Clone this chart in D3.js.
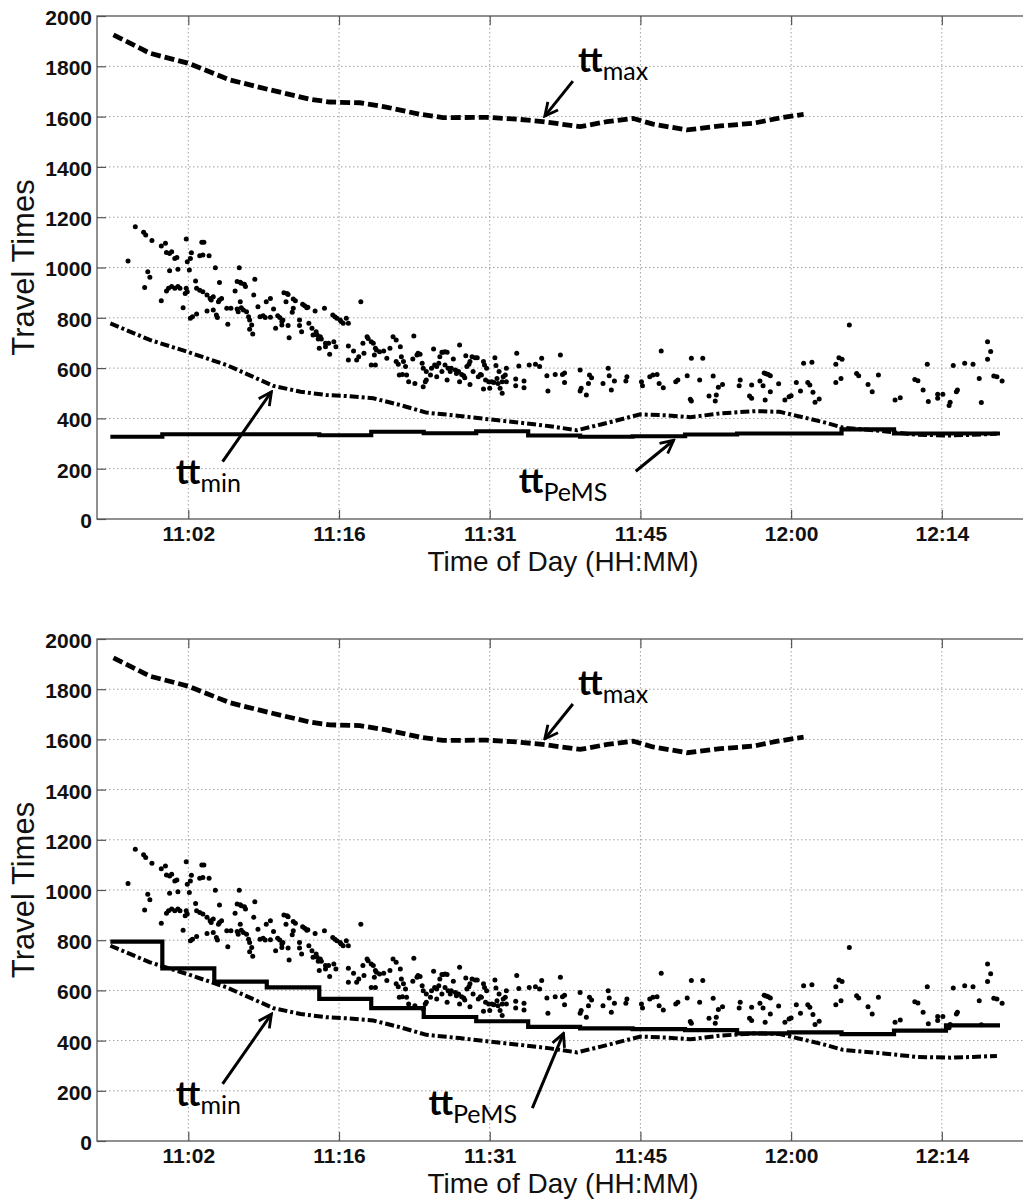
<!DOCTYPE html>
<html>
<head>
  <meta charset="utf-8">
  <title>Travel Times</title>
  <script src="https://cdn.jsdelivr.net/npm/d3@7/dist/d3.min.js"></script>
  <style>
    body { margin: 0; background: #fff; }
    svg { display: block; }
  </style>
</head>
<body>
  <svg width="1023" height="1200" id="mainsvg"></svg>
  <script>
    // time axis is minutes after 11:00, values are travel times in seconds
    const xTicks = [2, 16.5, 31, 45.5, 60, 74.5];
    const xTickLabels = ['11:02', '11:16', '11:31', '11:45', '12:00', '12:14'];
    const yTicks = [0, 200, 400, 600, 800, 1000, 1200, 1400, 1600, 1800, 2000];

    // tt_max (dashed)
    const ttMaxTime = [-5.2, -1.7, 2.0, 6.0, 9.9, 13.7, 15.6, 18.5, 20.9, 22.4, 24.3, 26.5, 30.7, 33.6, 36.1, 39.7, 42.3, 44.8, 46.7, 50.0, 53.2, 56.3, 58.7, 61.2];
    const ttMaxVal = [1925, 1852, 1812, 1746, 1706, 1669, 1658, 1655, 1639, 1626, 1609, 1596, 1597, 1590, 1580, 1560, 1580, 1593, 1570, 1547, 1563, 1573, 1593, 1609];

    // tt_min (dash-dot)
    const ttMinTime = [-5.5, -1.7, 1.9, 5.7, 8.2, 10.2, 12.8, 15.3, 17.2, 19.8, 22.4, 24.9, 28.1, 31.0, 33.9, 36.8, 39.4, 41.7, 45.5, 48.1, 50.3, 53.2, 56.6, 58.9, 61.6, 63.3, 65.0, 68.9, 72.1, 75.3, 77.5, 79.8];
    const ttMinVal = [778, 712, 665, 612, 566, 529, 506, 493, 489, 480, 453, 423, 410, 396, 383, 369, 353, 376, 416, 412, 405, 420, 429, 426, 400, 383, 363, 349, 335, 332, 335, 339];

    // tt_PeMS (5 minute steps), last entry is the end time
    const pemsStepTime = [-5.5, -0.5, 4.5, 9.55, 14.6, 19.6, 24.65, 29.7, 34.7, 39.7, 44.75, 49.8, 54.8, 59.8, 64.85, 69.9, 74.9, 80.1];
    const pemsTopVal = [327, 337, 337, 337, 333, 347, 341, 349, 332, 327, 329, 336, 340, 340, 356, 340, 340];
    const pemsBottomVal = [794, 688, 635, 612, 566, 529, 494, 477, 455, 449, 446, 442, 429, 433, 426, 440, 461];

    // probe vehicle travel times [minute, seconds]
    const probes = [
      [-3.8, 1026], [-3.1, 1162], [-2.3, 1140], [-2.1, 1129], [-1.5, 1107], [-1.9, 983], [-1.7, 961], [-2.2, 920],
      [-0.6, 1085], [-0.2, 1096], [-0.1, 1060], [0.2, 1056], [0.4, 1063], [0.7, 1036], [0.9, 1040], [1.0, 993],
      [0.2, 987], [-0.6, 868], [-0.1, 907], [0.1, 917], [0.4, 924], [0.7, 917], [1.0, 924], [1.2, 917],
      [1.8, 1113], [1.9, 1023], [2.1, 990], [2.3, 1059], [2.2, 1036], [1.8, 917], [1.9, 904], [1.7, 897],
      [1.5, 840], [2.2, 798], [2.4, 804], [2.8, 815], [2.7, 946], [2.8, 917], [3.1, 910], [3.4, 904],
      [3.3, 1100], [3.5, 1100], [3.1, 1047], [3.4, 1050], [4.0, 1047], [3.8, 891], [4.1, 877], [4.2, 871],
      [4.4, 884], [4.6, 999], [3.8, 827], [4.4, 831], [4.7, 811], [4.8, 801], [5.0, 940], [4.9, 864],
      [5.0, 871], [5.2, 877], [5.7, 838], [5.8, 774], [6.1, 838], [6.5, 907], [6.7, 944], [6.9, 999],
      [7.0, 941], [7.1, 937], [7.4, 933], [7.5, 924], [7.0, 864], [6.7, 835], [6.8, 824], [7.1, 840],
      [7.3, 831], [7.6, 824], [7.8, 804], [7.9, 754], [8.2, 736], [7.9, 791], [8.1, 771], [8.4, 953],
      [8.3, 891], [8.7, 844], [8.9, 804], [9.2, 808], [9.4, 801], [9.5, 864], [9.9, 877], [9.9, 802],
      [10.2, 835], [10.4, 758], [10.6, 808], [10.8, 801], [11.0, 785], [11.1, 791], [11.0, 771], [11.2, 900],
      [11.5, 897], [11.6, 893], [11.4, 864], [11.6, 769], [11.7, 721], [12.1, 875], [12.3, 868], [12.1, 838],
      [12.0, 822], [12.7, 791], [12.7, 769], [12.9, 745], [13.0, 854], [13.2, 848], [13.4, 840], [13.5, 842],
      [13.6, 778], [13.9, 758], [14.0, 732], [14.2, 827], [14.3, 745], [14.4, 732], [14.5, 716], [14.6, 679],
      [14.7, 725], [14.8, 716], [15.1, 838], [15.2, 699], [15.2, 685], [15.5, 699], [15.6, 655], [15.9, 811],
      [16.1, 804], [16.3, 798], [16.6, 791], [16.7, 785], [16.9, 778], [17.2, 798], [17.4, 778], [16.0, 705],
      [16.2, 685], [17.4, 688], [17.4, 632], [17.9, 668], [18.2, 632], [18.4, 645], [18.6, 864], [18.8, 699],
      [18.9, 659], [19.2, 725], [19.3, 718], [19.6, 705], [19.8, 699], [20.0, 679], [19.9, 652], [19.6, 612],
      [20.0, 612], [20.1, 672], [20.4, 665], [20.8, 668], [21.1, 639], [21.4, 679], [21.7, 725], [22.0, 712],
      [22.0, 626], [22.2, 615], [22.3, 573],
      [22.4, 685], [22.5, 645], [22.7, 626], [22.9, 606], [22.6, 575], [23.0, 573], [23.2, 546], [23.7, 728],
      [23.6, 636], [23.8, 539], [24.0, 652], [24.1, 659], [24.3, 655], [24.5, 619], [24.6, 599], [24.6, 526],
      [24.8, 546], [24.9, 553], [24.9, 586], [25.3, 573], [25.4, 599], [25.6, 676], [25.7, 612], [25.9, 606],
      [26.1, 619], [25.9, 566], [26.2, 645], [26.4, 663], [26.5, 663], [26.7, 665], [26.9, 663], [26.7, 612],
      [26.4, 586], [26.9, 553], [27.0, 599], [27.2, 586], [27.3, 599], [27.5, 636], [27.7, 592], [27.8, 579],
      [28.0, 586], [28.1, 692], [28.1, 546], [28.3, 575], [28.5, 570], [28.6, 562], [28.7, 649], [28.8, 606],
      [29.0, 615], [29.1, 535], [29.1, 626], [29.3, 645], [29.4, 586], [29.6, 641], [29.8, 641], [29.9, 566],
      [30.1, 575], [30.2, 573], [30.4, 517], [30.4, 626], [30.5, 612], [30.7, 599], [30.6, 553], [30.9, 546],
      [31.0, 520], [31.2, 546], [31.4, 543], [31.5, 641], [31.6, 610], [31.7, 559], [31.8, 539], [31.9, 586],
      [32.0, 520], [32.2, 546], [32.2, 500], [32.3, 566], [32.5, 573], [32.6, 599], [32.6, 546], [33.6, 659],
      [33.5, 557], [33.5, 530], [33.8, 608], [34.3, 549], [34.3, 522], [34.8, 612], [35.4, 615], [35.8, 606],
      [36.0, 639], [36.5, 570], [36.6, 509], [37.3, 575], [37.8, 652], [38.0, 575], [38.2, 581], [38.2, 543],
      [39.7, 592], [39.8, 520], [39.7, 509], [40.3, 493], [40.5, 539], [40.6, 573], [40.8, 562], [41.9, 539],
      [42.4, 599], [42.5, 570], [42.7, 513], [43.0, 549], [44.2, 566], [44.1, 549], [45.6, 546], [45.7, 530],
      [46.4, 566], [46.7, 573], [47.1, 575], [47.5, 668], [47.3, 539], [47.7, 522], [48.9, 546], [49.1, 553],
      [50.0, 570], [50.4, 639], [50.3, 476], [50.4, 469],
      [51.5, 639], [51.2, 553], [52.5, 569], [52.1, 489], [52.7, 469], [52.8, 493], [53.0, 524], [53.4, 535],
      [55.1, 553], [55.0, 530], [56.2, 533], [56.0, 489], [56.2, 480], [57.0, 549], [57.3, 530], [57.4, 581],
      [57.6, 578], [57.8, 575], [58.0, 570], [57.5, 473], [58.0, 506], [58.8, 538], [59.4, 473], [59.8, 486],
      [60.0, 490], [60.5, 543], [60.9, 509], [61.2, 619], [61.6, 543], [61.8, 533], [62.0, 623], [62.1, 504],
      [62.3, 464], [62.7, 477], [64.3, 615], [64.3, 543], [64.6, 641], [64.9, 635], [64.8, 559], [65.6, 771],
      [66.3, 579], [66.5, 570], [67.4, 535], [67.8, 506], [68.4, 573], [70.0, 473], [70.5, 482], [71.9, 555],
      [72.2, 550], [72.7, 513], [73.1, 615], [73.2, 467], [74.1, 496], [74.1, 480], [74.6, 496], [75.3, 464],
      [75.6, 610], [75.9, 506], [76.0, 513], [76.7, 619], [77.5, 615], [78.1, 559], [78.3, 463], [78.9, 705],
      [79.2, 666], [78.9, 635], [79.5, 569], [79.8, 566], [80.3, 549], [75.2, 451]
    ];

    // annotation anchors in data units: label position, arrow tail, arrow head
    const annoTop = [
      { main: 'tt', sub: 'max', at: [39.5, 1777], from: [39.0, 1741], to: [36.3, 1602] },
      { main: 'tt', sub: 'min', at: [0.8, 139], from: [5.3, 228], to: [10.0, 506] },
      { main: 'tt', sub: 'PeMS', at: [33.8, 103], from: [45.05, 190], to: [48.7, 313] }
    ];
    const annoBottom = [
      { main: 'tt', sub: 'max', at: [39.5, 1777], from: [39.0, 1741], to: [36.3, 1602] },
      { main: 'tt', sub: 'min', at: [0.8, 139], from: [5.3, 228], to: [10.0, 506] },
      { main: 'tt', sub: 'PeMS', at: [25.1, 104], from: [35.1, 131], to: [38.1, 429] }
    ];

    const svg = d3.select('#mainsvg');
    const left = 97, right = 1023;
    const sansFont = '"Liberation Sans", Arial, Helvetica, sans-serif';

    const xScale = d3.scaleLinear().domain([-6.785, 82.31]).range([left, right]);

    svg.append('defs').append('marker')
      .attr('id', 'arrowhead')
      .attr('viewBox', '0 0 16 16')
      .attr('refX', 14).attr('refY', 8)
      .attr('markerWidth', 16).attr('markerHeight', 16)
      .attr('markerUnits', 'userSpaceOnUse')
      .attr('orient', 'auto')
      .append('path')
      .attr('d', 'M1,1.5 L14,8 L1,14.5')
      .attr('fill', 'none')
      .attr('stroke', '#000')
      .attr('stroke-width', 2.8);

    const drawPanel = function (top, bottom, pemsVal, annos) {
      const yScale = d3.scaleLinear().domain([0, 2000]).range([bottom, top]);
      const g = svg.append('g');

      // dotted grid
      g.append('g').selectAll('line').data(xTicks).join('line')
        .attr('x1', d => xScale(d)).attr('x2', d => xScale(d))
        .attr('y1', top).attr('y2', bottom)
        .attr('stroke', '#a0a0a0').attr('stroke-width', 1)
        .attr('stroke-dasharray', '1.5,2.5');
      g.append('g').selectAll('line').data(yTicks.slice(1, -1)).join('line')
        .attr('x1', left).attr('x2', right + 10)
        .attr('y1', d => yScale(d)).attr('y2', d => yScale(d))
        .attr('stroke', '#a0a0a0').attr('stroke-width', 1)
        .attr('stroke-dasharray', '1.5,2.5');

      // axes with inward ticks
      const xAxis = d3.axisBottom(xScale).tickValues(xTicks)
        .tickFormat((d, i) => xTickLabels[i]).tickSize(-9).tickPadding(7);
      const xg = g.append('g').attr('transform', `translate(0,${bottom})`).call(xAxis);
      const xTop = d3.axisTop(xScale).tickValues(xTicks).tickFormat('').tickSize(-9);
      const xtg = g.append('g').attr('transform', `translate(0,${top})`).call(xTop);
      const yAxis = d3.axisLeft(yScale).tickValues(yTicks)
        .tickFormat(d3.format('d')).tickSize(-9).tickPadding(5);
      const yg = g.append('g').attr('transform', `translate(${left},0)`).call(yAxis);

      [xg, xtg, yg].forEach(a => {
        a.attr('font-family', sansFont);
        a.select('.domain').remove();
        a.selectAll('.tick line').attr('stroke', '#555').attr('stroke-width', 1.2);
        a.selectAll('text')
          .attr('font-family', sansFont)
          .attr('font-weight', 'bold')
          .attr('font-size', 21)
          .attr('fill', '#111');
      });
      yg.selectAll('text').attr('dy', '0.4em');

      // frame
      g.append('rect')
        .attr('x', left).attr('y', top)
        .attr('width', right - left + 20).attr('height', bottom - top)
        .attr('fill', 'none').attr('stroke', '#555').attr('stroke-width', 1.3);

      // axis titles
      g.append('text')
        .attr('transform', `translate(34,${(top + bottom) / 2}) rotate(-90)`)
        .attr('text-anchor', 'middle')
        .attr('font-family', sansFont)
        .attr('font-size', 31)
        .attr('fill', '#111')
        .text('Travel Times');
      g.append('text')
        .attr('x', 563).attr('y', bottom + 52)
        .attr('text-anchor', 'middle')
        .attr('font-family', sansFont)
        .attr('font-size', 28)
        .attr('fill', '#111')
        .text('Time of Day (HH:MM)');

      const line = d3.line().x(d => xScale(d[0])).y(d => yScale(d[1]));

      // probe points
      g.append('g').selectAll('circle').data(probes).join('circle')
        .attr('cx', d => xScale(d[0])).attr('cy', d => yScale(d[1]))
        .attr('r', 2.5).attr('fill', '#000');

      // tt_max
      g.append('path')
        .datum(ttMaxTime.map((t, i) => [t, ttMaxVal[i]]))
        .attr('d', line)
        .attr('fill', 'none').attr('stroke', '#000')
        .attr('stroke-width', 4.8).attr('stroke-dasharray', '10,4');

      // tt_PeMS step line
      const pemsPts = pemsVal.map((v, i) => [pemsStepTime[i], v]);
      pemsPts.push([pemsStepTime[pemsStepTime.length - 1], pemsVal[pemsVal.length - 1]]);
      g.append('path')
        .datum(pemsPts)
        .attr('d', line.curve(d3.curveStepAfter))
        .attr('fill', 'none').attr('stroke', '#000')
        .attr('stroke-width', 4.2).attr('stroke-linejoin', 'miter');
      line.curve(d3.curveLinear);

      // tt_min
      g.append('path')
        .datum(ttMinTime.map((t, i) => [t, ttMinVal[i]]))
        .attr('d', line)
        .attr('fill', 'none').attr('stroke', '#000')
        .attr('stroke-width', 4).attr('stroke-dasharray', '9,3,3,3');

      // annotations
      annos.forEach(a => {
        g.append('line')
          .attr('x1', xScale(a.from[0])).attr('y1', yScale(a.from[1]))
          .attr('x2', xScale(a.to[0])).attr('y2', yScale(a.to[1]))
          .attr('stroke', '#000').attr('stroke-width', 3)
          .attr('marker-end', 'url(#arrowhead)');
        const t = g.append('text')
          .attr('x', xScale(a.at[0])).attr('y', yScale(a.at[1]))
          .attr('font-family', 'Lato, "Open Sans", sans-serif')
          .attr('fill', '#000');
        t.append('tspan').attr('font-weight', 'bold').attr('font-size', 35).text(a.main);
        t.append('tspan').attr('font-size', 25).attr('dy', 8).text(a.sub);
      });
    };

    drawPanel(16, 519, pemsTopVal, annoTop);
    drawPanel(639, 1141, pemsBottomVal, annoBottom);
  </script>
</body>
</html>
